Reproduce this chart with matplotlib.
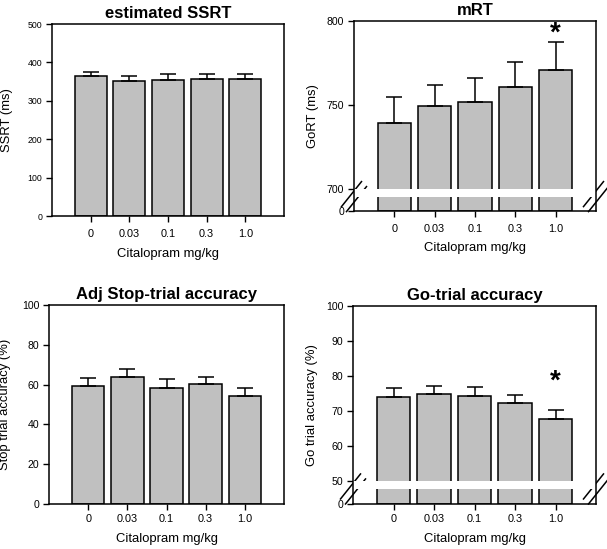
import matplotlib
matplotlib.use('Agg')
import matplotlib.pyplot as plt
from matplotlib.lines import Line2D
import numpy as np

plt.rcParams['font.family'] = ['Liberation Sans', 'DejaVu Sans']

# data
doses = ['0', '0.03', '0.1', '0.3', '1.0']

ssrt = [364, 351, 353, 357, 358]
ssrt_err = [12, 14, 17, 13, 12]

mrt = [739.4, 749.4, 751.8, 760.7, 770.6]
mrt_err = [15.2, 12.7, 14.2, 15.1, 16.9]

stop_acc = [59.2, 63.7, 58.5, 60.3, 54.2]
stop_err = [4.3, 4.0, 4.3, 3.7, 4.0]

go_acc = [74.0, 74.8, 74.4, 72.4, 67.7]
go_err = [2.5, 2.2, 2.4, 2.1, 2.7]

W, H = 607, 549
fig = plt.figure(figsize=(W / 100, H / 100), dpi=100)

BAR = '#c0c0c0'


def px_axes(l, t, r, b):
    # place an axes using pixel edges of the reference
    return fig.add_axes([l / W, 1 - b / H, (r - l) / W, (b - t) / H])


def broken_scale(ax, brk, low):
    # 0..brk squeezed into "low" units, above brk linear
    def fwd(y):
        y = np.asarray(y, dtype=float)
        return np.where(y >= brk, y - brk + low, y * low / brk)

    def inv(y):
        y = np.asarray(y, dtype=float)
        return np.where(y >= low, y - low + brk, y * brk / low)
    ax.set_yscale('function', functions=(fwd, inv))


def draw_panel(ax, vals, errs, title, ylabel, xpad, ylab_x, ytick_size=7.6):
    x = np.arange(len(doses))
    ax.bar(x, vals, width=0.83, color=BAR, edgecolor='black', linewidth=1.1, zorder=2)
    ax.errorbar(x, vals, yerr=[np.zeros(len(vals)), errs], fmt='none',
                ecolor='black', elinewidth=1.1, capsize=5.5, capthick=1.1, zorder=3)
    ax.set_xlim(-1, len(doses))
    ax.set_xticks(x)
    ax.set_xticklabels(doses)
    ax.tick_params(axis='x', length=4, width=1, pad=xpad, labelsize=7.8)
    ax.tick_params(axis='y', length=4, width=1, pad=3, labelsize=ytick_size)
    for s in ax.spines.values():
        s.set_linewidth(1.1)
    ax.set_title(title, fontsize=12, fontweight='bold', pad=4)
    ax.set_ylabel(ylabel, fontsize=9.4)
    ax.set_xlabel('Citalopram mg/kg', fontsize=9.4, labelpad=6)
    wpx = ax.get_position().width * W
    # label anchor is its right edge, so shift by about half the text height
    ax.yaxis.set_label_coords((ylab_x + 6) / wpx, 0.5)


def add_break(ax, brk, band_lo):
    # white gap through the bars and // marks on both spines
    ax.axhspan(band_lo, brk, color='white', zorder=2.2, lw=0)
    tr = ax.transAxes
    bbox = ax.get_window_extent()
    wpx, hpx = bbox.width, bbox.height
    ymid = ax.transAxes.inverted().transform(ax.transData.transform((0, band_lo)))[1]
    for xc in (0, 1):
        for off in (-2.5, 2.5):
            dx0, dy0 = -10 + off, -12.5
            dx1, dy1 = 10 + off, 12.5
            ax.add_line(Line2D([xc + dx0 / wpx, xc + dx1 / wpx],
                               [ymid + (dy0 - off) / hpx, ymid + (dy1 - off) / hpx],
                               transform=tr, color='black', lw=1.1, clip_on=False))


def star(ax, x, y):
    ax.annotate('*', (x, y), xytext=(0, -7.5), textcoords='offset points',
                ha='center', va='baseline', fontsize=20, fontweight='bold')


# estimated SSRT
ax1 = px_axes(52, 24, 284, 216)
draw_panel(ax1, ssrt, ssrt_err, 'estimated SSRT', 'SSRT (ms)', 5.5, -45, ytick_size=6.3)
ax1.set_ylim(0, 500)
ax1.set_yticks([0, 100, 200, 300, 400, 500])

# mRT
ax2 = px_axes(354, 21, 596, 211)
broken_scale(ax2, 700, 13.4)
draw_panel(ax2, mrt, mrt_err, 'mRT', 'GoRT (ms)', 5, -41)
ax2.set_ylim(0, 800)
ax2.set_yticks([0, 700, 750, 800])
ax2.set_yticklabels(['0', '700', '750', '800'])
add_break(ax2, 700, 700 * 8.6 / 13.4)
star(ax2, 4, 794.5)

# Adj Stop-trial accuracy
ax3 = px_axes(49, 305, 284, 504)
draw_panel(ax3, stop_acc, stop_err, 'Adj Stop-trial accuracy', 'Stop trial accuracy (%)', 3.5, -44)
ax3.set_ylim(0, 100)
ax3.set_yticks([0, 20, 40, 60, 80, 100])

# Go-trial accuracy
ax4 = px_axes(353, 306, 596, 504)
broken_scale(ax4, 50, 6.6)
draw_panel(ax4, go_acc, go_err, 'Go-trial accuracy', 'Go trial accuracy (%)', 3.5, -41)
ax4.set_ylim(0, 100)
ax4.set_yticks([0, 50, 60, 70, 80, 90, 100])
add_break(ax4, 50, 50 * 4.3 / 6.6)
star(ax4, 4, 79.5)

fig.savefig('out.png', dpi=100)
